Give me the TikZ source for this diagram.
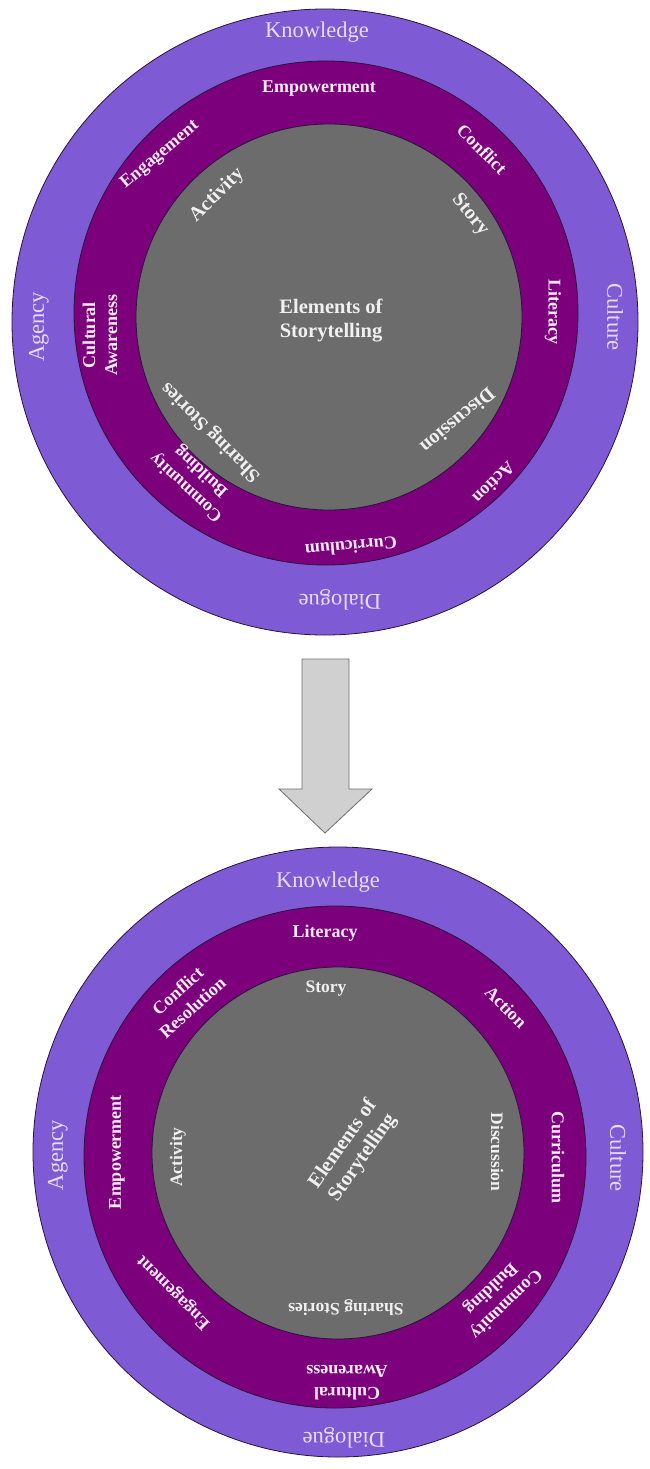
\documentclass[tikz,border=0pt]{standalone}
\usepackage{fontspec}
\setmainfont{Liberation Serif}
\definecolor{outerfill}{RGB}{126,90,212}
\definecolor{midfill}{RGB}{124,0,124}
\definecolor{greyfill}{RGB}{108,108,108}
\definecolor{outertxt}{RGB}{232,220,250}
\definecolor{midtxt}{RGB}{252,236,250}
\definecolor{greytxt}{RGB}{240,240,240}
\definecolor{edge}{RGB}{40,20,60}
\definecolor{arrowfill}{RGB}{208,208,208}
\definecolor{arrowedge}{RGB}{110,110,110}
\begin{document}
\begin{tikzpicture}[x=1pt,y=-1pt,
  ringdisk/.style={circle, draw=edge, line width=0.8pt, inner sep=0pt},
  outerlbl/.style={font=\fontsize{22.5}{26}\selectfont, text=outertxt, inner sep=1pt},
  midlbl/.style={font=\bfseries\fontsize{18}{22}\selectfont, text=midtxt, align=center, inner sep=1pt},
  greylbl/.style={font=\bfseries\fontsize{20}{23}\selectfont, text=greytxt, align=center, inner sep=1pt},
  greylblB/.style={font=\bfseries\fontsize{17.5}{21}\selectfont, text=greytxt, align=center, inner sep=1pt},
  centerlbl/.style={font=\bfseries\fontsize{20.5}{24}\selectfont, text=greytxt, align=center, inner sep=1pt}
]
\useasboundingbox (0,0) rectangle (650,1469);
\fill[white] (0,0) rectangle (650,1469);

% ---------- top diagram ----------
\node[ringdisk, fill=outerfill, minimum size=626pt] (topOuter) at (325,322) {};
\node[ringdisk, fill=midfill, minimum size=504pt] (topMid) at (326,313) {};
\node[ringdisk, fill=greyfill, minimum size=386pt] (topGrey) at (329,317) {};

\node[outerlbl] (tKnow) at (317,32) {Knowledge};
\node[outerlbl, rotate=-90] (tCult) at (615,317) {Culture};
\node[outerlbl, rotate=90] (tAg) at (39,327) {Agency};
\node[outerlbl, rotate=180] (tDia) at (340,600) {Dialogue};

\node[midlbl] (tEmp) at (319,89) {Empowerment};
\node[midlbl, rotate=40] (tEng) at (160,155) {Engagement};
\node[midlbl, rotate=-45] (tCon) at (482,149) {Conflict};
\node[midlbl, rotate=-90] (tLit) at (553,312) {Literacy};
\node[midlbl, rotate=90] (tCA) at (100,335) {Cultural\\Awareness};
\node[midlbl, rotate=137] (tCB) at (194,479) {Community\\Building};
\node[midlbl, rotate=225] (tAct) at (494,483) {Action};
\node[midlbl, rotate=185] (tCur) at (351,547) {Curriculum};

\node[greylbl, rotate=45] (tActv) at (217,195) {Activity};
\node[greylbl, rotate=-50] (tSto) at (470,215) {Story};
\node[greylbl, rotate=135] (tSS) at (211,432) {Sharing Stories};
\node[greylbl, rotate=220] (tDis) at (458,421) {Discussion};
\node[centerlbl] (tEl) at (331,321) {Elements of\\Storytelling};

% ---------- arrow ----------
\draw[arrowedge, fill=arrowfill, line width=0.8pt, line join=miter]
  (302,659) -- (349,659) -- (349,789) -- (372,789) -- (325,833) -- (279,789) -- (302,789) -- cycle;

% ---------- bottom diagram ----------
\node[ringdisk, fill=outerfill, minimum size=610pt] (botOuter) at (338,1152) {};
\node[ringdisk, fill=midfill, minimum size=502pt] (botMid) at (335,1157) {};
\node[ringdisk, fill=greyfill, minimum size=372pt] (botGrey) at (338,1153) {};

\node[outerlbl] (bKnow) at (328,882) {Knowledge};
\node[outerlbl, rotate=-90] (bCult) at (618,1158) {Culture};
\node[outerlbl, rotate=90] (bAg) at (58,1155) {Agency};
\node[outerlbl, rotate=180] (bDia) at (344,1438) {Dialogue};

\node[midlbl] (bLit) at (325,933) {Literacy};
\node[midlbl, rotate=42] (bCR) at (185,999) {Conflict\\Resolution};
\node[midlbl, rotate=-45] (bAct) at (506,1007) {Action};
\node[midlbl, rotate=90] (bEmp) at (117,1152) {Empowerment};
\node[midlbl, rotate=-90] (bCur) at (558,1157) {Curriculum};
\node[midlbl, rotate=224] (bCB) at (498,1296) {Community\\Building};
\node[midlbl, rotate=180] (bCA) at (347,1383) {Cultural\\Awareness};
\node[midlbl, rotate=135] (bEng) at (174,1292) {Engagement};

\node[greylblB] (bSto) at (326,989) {Story};
\node[greylblB, rotate=90] (bActv) at (178,1157) {Activity};
\node[greylblB, rotate=-90] (bDis) at (497,1152) {Discussion};
\node[greylblB, rotate=180] (bSS) at (346,1308) {Sharing Stories};
\node[centerlbl, rotate=55] (bEl) at (353,1151) {Elements of\\Storytelling};
\end{tikzpicture}
\end{document}
